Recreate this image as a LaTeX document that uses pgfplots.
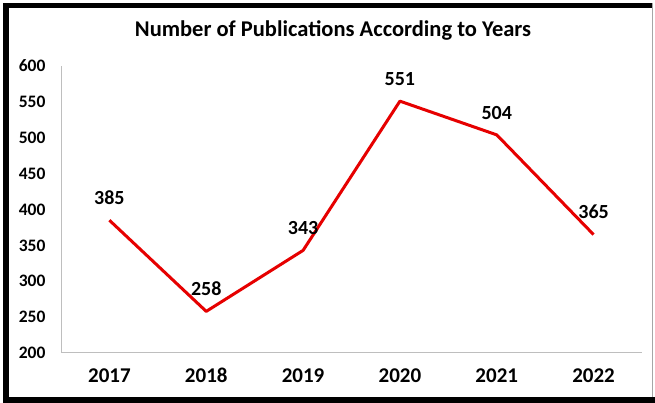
\documentclass[border=0pt]{standalone}
\usepackage{pgfplots}
\pgfplotsset{compat=1.18}
\usepackage{fontspec}
\setmainfont{Carlito}
\definecolor{linered}{RGB}{230,0,0}
\definecolor{axgray}{RGB}{190,190,190}
\begin{document}
\begin{tikzpicture}[x=1pt,y=1pt]
\path[use as bounding box] (0,0) rectangle (655,403);
\fill[white] (0,0) rectangle (655,403);
% frame
\fill[black] (3,0) rectangle (9,400);
\fill[black] (3,395) rectangle (652,400);
\fill[black] (3,0) rectangle (655,6);
\draw[gray!70, line width=1pt] (652.5,6) -- (652.5,400);
\node[font=\bfseries\fontsize{22.5}{26}\selectfont] at (333,372) {Number of Publications According to Years};
\begin{axis}[
  at={(61pt,50pt)}, anchor=south west,
  scale only axis, width=581pt, height=287pt,
  xmin=-0.5, xmax=5.5, ymin=200, ymax=600,
  xtick={0,1,2,3,4,5},
  xticklabels={2017,2018,2019,2020,2021,2022},
  ytick={200,250,...,600},
  axis x line*=bottom, axis y line*=left,
  axis line style={axgray, line width=1pt, -},
  major tick length=0pt,
  tick style={draw=none},
  /pgf/number format/assume math mode=true,
  yticklabel style={font=\bfseries\fontsize{17.5}{20}\selectfont, xshift=-12pt},
  xticklabel style={font=\bfseries\fontsize{21}{24}\selectfont, yshift=-12pt, text height=14pt, text depth=0pt},
  clip=false,
]
\addplot[linered, line width=3pt, line join=round,
  nodes near coords,
  every node near coord/.append style={font=\bfseries\fontsize{20}{23}\selectfont, black, anchor=south, inner sep=0pt, yshift=14pt}]
  coordinates {(0,385) (1,258) (2,343) (3,551) (4,504) (5,365)};
\end{axis}
\end{tikzpicture}
\end{document}
